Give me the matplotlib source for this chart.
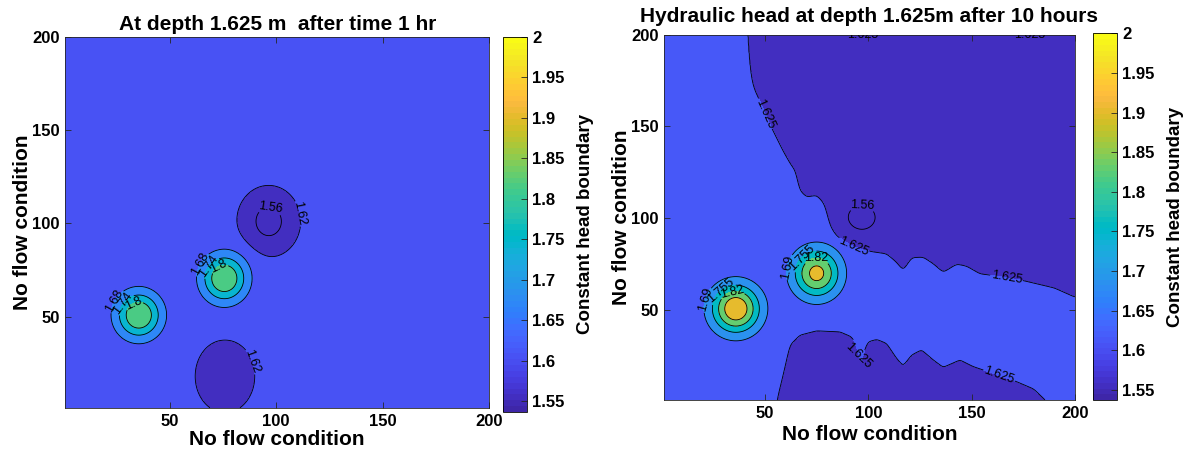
import numpy as np
import matplotlib
matplotlib.use("Agg")
import matplotlib.pyplot as plt
from matplotlib.colors import ListedColormap, Normalize

plt.rcParams['font.family'] = ['Liberation Sans', 'DejaVu Sans']

# MATLAB parula (64 entries)
parula = ListedColormap([
    [0.2422, 0.1504, 0.6603], [0.2504, 0.1650, 0.7076], [0.2578, 0.1818, 0.7511], [0.2647, 0.1978, 0.7952],
    [0.2706, 0.2147, 0.8364], [0.2751, 0.2342, 0.8710], [0.2783, 0.2559, 0.8991], [0.2803, 0.2782, 0.9221],
    [0.2813, 0.3006, 0.9414], [0.2810, 0.3228, 0.9579], [0.2795, 0.3447, 0.9717], [0.2760, 0.3667, 0.9829],
    [0.2699, 0.3892, 0.9906], [0.2602, 0.4123, 0.9952], [0.2440, 0.4358, 0.9988], [0.2206, 0.4603, 0.9973],
    [0.1963, 0.4847, 0.9892], [0.1834, 0.5074, 0.9798], [0.1786, 0.5289, 0.9682], [0.1764, 0.5499, 0.9520],
    [0.1687, 0.5703, 0.9359], [0.1540, 0.5902, 0.9218], [0.1460, 0.6091, 0.9079], [0.1380, 0.6276, 0.8973],
    [0.1248, 0.6459, 0.8883], [0.1113, 0.6635, 0.8763], [0.0952, 0.6798, 0.8598], [0.0689, 0.6948, 0.8394],
    [0.0297, 0.7082, 0.8163], [0.0036, 0.7203, 0.7917], [0.0067, 0.7312, 0.7660], [0.0433, 0.7411, 0.7394],
    [0.0964, 0.7500, 0.7120], [0.1408, 0.7584, 0.6842], [0.1717, 0.7670, 0.6554], [0.1938, 0.7758, 0.6251],
    [0.2161, 0.7843, 0.5923], [0.2470, 0.7918, 0.5567], [0.2906, 0.7973, 0.5188], [0.3406, 0.8008, 0.4789],
    [0.3909, 0.8029, 0.4354], [0.4456, 0.8024, 0.3909], [0.5044, 0.7993, 0.3480], [0.5616, 0.7942, 0.3045],
    [0.6174, 0.7876, 0.2612], [0.6720, 0.7793, 0.2227], [0.7242, 0.7698, 0.1910], [0.7738, 0.7598, 0.1646],
    [0.8203, 0.7498, 0.1535], [0.8634, 0.7406, 0.1596], [0.9035, 0.7330, 0.1774], [0.9393, 0.7288, 0.2100],
    [0.9728, 0.7298, 0.2394], [0.9956, 0.7434, 0.2371], [0.9970, 0.7659, 0.2199], [0.9952, 0.7893, 0.2028],
    [0.9892, 0.8136, 0.1885], [0.9786, 0.8386, 0.1766], [0.9676, 0.8639, 0.1643], [0.9610, 0.8890, 0.1537],
    [0.9597, 0.9135, 0.1423], [0.9628, 0.9373, 0.1265], [0.9691, 0.9606, 0.1064], [0.9769, 0.9839, 0.0805]])

# ---- head after 1 hr: uniform head with two injection mounds and two drawdowns
left_base = 1.63
left_cx = [35.6, 75.7, 96.5, 76.0]
left_cy = [50.8, 70.5, 101.0, 18.0]
left_sx = [10.5, 10.5, 11.5, 11.0]
left_sy = [12.4, 12.6, 14.8, 15.4]
left_amp = [0.233, 0.233, -0.082, -0.05]
left_pow = [2.0, 2.0, 2.8, 2.0]
left_levels = [1.56, 1.62, 1.68, 1.74, 1.8]

# ---- head after 10 hours: 1.625 m front (upper and lower edge of the high band)
upper_x = [38, 41.5, 42, 44, 47.5, 52.3, 58.7, 63, 65.2, 66, 70, 74.9, 78.9, 81.3, 84.6, 86.2, 92.6,
           101.5, 108.8, 113.6, 116.8, 120.9, 126.5, 131.4, 136.2, 142.7, 147.5, 154, 160.4, 175, 190, 200]
upper_y = [300, 200, 185, 172, 163.6, 151, 136.5, 128, 125.7, 116, 111.5, 112.5, 107.6, 95.9, 89.8, 88.7, 84.2,
           81.8, 80.6, 76, 71.5, 78.5, 78.8, 75.2, 70.5, 75.0, 73.9, 69.7, 68.8, 66, 62, 57]
lower_x = [0, 50, 55.5, 58.7, 62, 66.8, 74.9, 86.2, 91.8, 94.3, 96.2, 98.3, 99.9, 104, 108.8, 113.6,
           116.8, 120.9, 125.7, 131.4, 136.2, 144.3, 150.7, 160.4, 171.7, 180, 186.5, 190, 200]
lower_y = [-100, -60, 0, 14.6, 30.9, 36.3, 38.7, 38.1, 35.4, 30.9, 19.5, 29.1, 32.7, 34.0, 31.8, 23.7,
           19.6, 25.5, 28.3, 22.8, 18.8, 22.8, 19.2, 15.5, 11, 7, 0, -20, -60]
band_high, band_low = 1.64, 1.58
top_edge_head = 1.6255
right_cx = [35.8, 74.9, 96.7]
right_cy = [50.7, 70.0, 100.4]
right_sx = [11.5, 11.2, 9.5]
right_sy = [13.0, 13.1, 9.5]
right_amp = [0.305, 0.269, -0.032]
right_levels = [1.56, 1.625, 1.69, 1.755, 1.82, 1.885]

cbar_ticks = [1.55, 1.6, 1.65, 1.7, 1.75, 1.8, 1.85, 1.9, 1.95, 2.0]
vmin, vmax = 1.537, 2.0

g = np.arange(1, 200.01, 0.25)
X, Y = np.meshgrid(g, g)


def mound(cx, cy, sx, sy, amp, p=2.0):
    r2 = ((X - cx) / sx) ** 2 + ((Y - cy) / sy) ** 2
    return amp * np.exp(-r2 ** (p / 2))


def smooth(v, sigma):
    n = int(4 * sigma)
    k = np.exp(-0.5 * (np.arange(-n, n + 1) / sigma) ** 2)
    k /= k.sum()
    return np.convolve(np.pad(v, n, mode='edge'), k, mode='valid')


Z1 = np.full_like(X, left_base)
for i in range(len(left_cx)):
    Z1 += mound(left_cx[i], left_cy[i], left_sx[i], left_sy[i], left_amp[i], left_pow[i])

U = smooth(np.interp(g, upper_x, upper_y), 4)[None, :]
L = smooth(np.interp(g, lower_x, lower_y), 3)[None, :]
Z2 = np.clip(1.625 + 0.02 * np.minimum(U - Y, Y - L), band_low, band_high)
for i in range(len(right_cx)):
    Z2 += mound(right_cx[i], right_cy[i], right_sx[i], right_sy[i], right_amp[i])
# fixed head along the top boundary row
Z2[-1, :] = np.maximum(Z2[-1, :], top_edge_head)

norm = Normalize(vmin, vmax)

fig = plt.figure(figsize=(11.91, 4.57), dpi=100)
ax1 = fig.add_axes([0.0546, 0.1072, 0.3563, 0.8125])
cax1 = fig.add_axes([0.4223, 0.0985, 0.0202, 0.8206])
ax2 = fig.add_axes([0.5575, 0.1247, 0.3451, 0.7998])
cax2 = fig.add_axes([0.9180, 0.1247, 0.0202, 0.8020])


def draw(ax, cax, Z, levels, fill_norm, label_at, title, tpad, xpad):
    bounds = [1.0] + levels + [3.0]
    fills = [parula(0.045), parula(0.045)] + [parula(fill_norm(v)) for v in levels[1:]]
    ax.contourf(X, Y, Z, levels=bounds, colors=fills)
    cs = ax.contour(X, Y, Z, levels=levels, colors='k', linewidths=0.6)
    labels = ax.clabel(cs, fmt='%g', fontsize=9, inline=True, inline_spacing=1, manual=label_at)
    for t in labels:
        t.set_fontweight('normal')
    ax.set_xlim(1, 200)
    ax.set_ylim(1, 200)
    ax.set_xticks([50, 100, 150, 200])
    ax.set_yticks([50, 100, 150, 200])
    ax.tick_params(direction='in', length=4, width=0.6, top=True, right=True,
                   labelsize=12, color='#262626', pad=4)
    for lbl in ax.get_xticklabels() + ax.get_yticklabels():
        lbl.set_fontweight('bold')
    for s in ax.spines.values():
        s.set_linewidth(0.6)
        s.set_color('#262626')
    ax.set_xlabel('No flow condition', fontsize=15, fontweight='bold', labelpad=xpad)
    ax.set_ylabel('No flow condition', fontsize=15, fontweight='bold', labelpad=0)
    ax.set_title(title, fontsize=15, fontweight='bold', pad=tpad)
    sm = plt.cm.ScalarMappable(norm=norm, cmap=parula)
    cb = fig.colorbar(sm, cax=cax, ticks=cbar_ticks)
    cb.ax.set_yticklabels(['%g' % t for t in cbar_ticks], fontweight='bold')
    cb.ax.tick_params(direction='in', length=4, width=0.6, labelsize=12, color='#262626')
    cb.outline.set_linewidth(0.6)
    cb.set_label('Constant head boundary', fontsize=13.5, fontweight='bold', labelpad=9)


draw(ax1, cax1, Z1, left_levels, Normalize(1.565, 1.956),
     [(97, 106.5), (111.8, 105.4), (89, 26),
      (24.3, 58.5), (28.3, 57.2), (33.0, 57.5),
      (64.4, 78.2), (68.4, 76.9), (73.0, 77.2)],
     'At depth 1.625 m  after time 1 hr', 5, 1)
draw(ax2, cax2, Z2, right_levels, Normalize(1.56, 1.97),
     [(49, 156.4), (92.6, 84.2), (166.9, 67.9), (95.9, 25.5), (163.6, 15.5), (97, 107),
      (97, 199.9), (178, 199.9),
      (21.7, 55.3), (28.9, 59.8), (33.8, 60.2),
      (61.2, 73.3), (67.6, 78.7), (74.9, 78.7)],
     'Hydraulic head at depth 1.625m after 10 hours', 9, 3)

fig.savefig('out.png', dpi=100)
